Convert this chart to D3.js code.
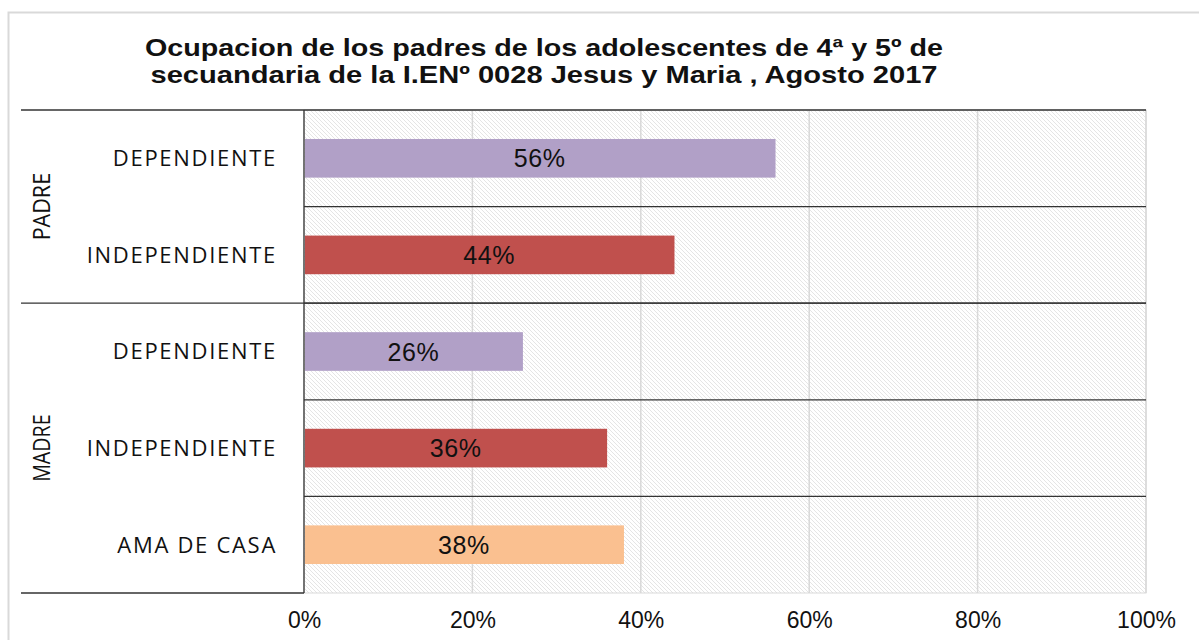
<!DOCTYPE html>
<html>
<head>
<meta charset="utf-8">
<script src="https://cdn.jsdelivr.net/npm/d3@7"></script>
<style>
  body { margin: 0; background: #fff; }
  svg { display: block; }
</style>
</head>
<body>
<svg id="chart"></svg>
<script>
// Ocupacion de los padres - horizontal bar chart grouped by PADRE / MADRE
const titleLines = [
    'Ocupacion de los padres de los adolescentes de 4ª y 5º de',
    'secuandaria de la I.ENº 0028 Jesus y Maria , Agosto 2017'
];
const groups = ['PADRE', 'MADRE'];
const groupSizes = [2, 3];
const categories = ['DEPENDIENTE', 'INDEPENDIENTE', 'DEPENDIENTE', 'INDEPENDIENTE', 'AMA DE CASA'];
const values = [0.56, 0.44, 0.26, 0.36, 0.38];
const tickValues = [0, 0.2, 0.4, 0.6, 0.8, 1];

const colorByCat = {
    'DEPENDIENTE': '#B1A0C7',
    'INDEPENDIENTE': '#C0504D',
    'AMA DE CASA': '#FAC090'
};

let width = 1199,
    height = 640;

const svg = d3.select('#chart')
    .attr('width', width)
    .attr('height', height);

// diagonal hatch for plot background
const defs = svg.append('defs');
defs.append('pattern')
    .attr('id', 'hatch')
    .attr('patternUnits', 'userSpaceOnUse')
    .attr('width', 4)
    .attr('height', 4)
  .append('path')
    .attr('d', 'M-1,-1 L5,5 M-1,3 L1,5 M3,-1 L5,1')
    .attr('stroke', '#e2e2e2')
    .attr('stroke-width', 0.9);

// outer chart border
svg.append('rect')
    .attr('x', 8.5).attr('y', 12.5)
    .attr('width', 1300).attr('height', 700)
    .attr('fill', '#fff')
    .attr('stroke', '#d9d9d9')
    .attr('stroke-width', 2);

const x = d3.scaleLinear()
    .domain([0, 1])
    .range([304, 1146]);

const y = d3.scaleBand()
    .domain(d3.range(categories.length))
    .range([110, 593])
    .paddingInner(0)
    .paddingOuter(0);

// plot background
svg.append('rect')
    .attr('x', x(0)).attr('y', y.range()[0])
    .attr('width', x(1) - x(0))
    .attr('height', y.range()[1] - y.range()[0])
    .attr('fill', 'url(#hatch)')
    .attr('stroke', '#d9d9d9');

// vertical gridlines
svg.append('g')
    .selectAll('line')
    .data(tickValues.slice(1))
    .enter().append('line')
      .attr('x1', (d) => x(d)).attr('x2', (d) => x(d))
      .attr('y1', y.range()[0]).attr('y2', y.range()[1])
      .attr('stroke', '#d9d9d9')
      .attr('stroke-width', 1.5);

// category separators inside plot
svg.append('g')
    .selectAll('line')
    .data(d3.range(1, categories.length))
    .enter().append('line')
      .attr('x1', x(0)).attr('x2', x(1))
      .attr('y1', (d) => y(d)).attr('y2', (d) => y(d))
      .attr('stroke', '#333')
      .attr('stroke-width', 1.3);

// group separators across label area
let groupStarts = [0];
groupSizes.forEach((n, i) => groupStarts.push(groupStarts[i] + n));
svg.append('g')
    .selectAll('line')
    .data(groupStarts)
    .enter().append('line')
      .attr('x1', 21)
      .attr('x2', (d) => d === categories.length ? x(0) : x(1))
      .attr('y1', (d) => d === categories.length ? y.range()[1] : y(d))
      .attr('y2', (d) => d === categories.length ? y.range()[1] : y(d))
      .attr('stroke', '#333')
      .attr('stroke-width', 1.3);

// vertical axis line
svg.append('line')
    .attr('x1', x(0)).attr('x2', x(0))
    .attr('y1', y.range()[0]).attr('y2', y.range()[1])
    .attr('stroke', '#333')
    .attr('stroke-width', 1.3);

// bars
const barH = y.bandwidth() * 0.4;
svg.append('g')
    .selectAll('rect')
    .data(values)
    .enter().append('rect')
      .attr('x', x(0) + 1)
      .attr('y', (d, i) => y(i) + (y.bandwidth() - barH) / 2)
      .attr('width', (d) => x(d) - x(0) - 1)
      .attr('height', barH)
      .attr('fill', (d, i) => colorByCat[categories[i]]);

// value labels
svg.append('g')
    .selectAll('text')
    .data(values)
    .enter().append('text')
      .attr('x', (d) => (x(0) + x(d)) / 2)
      .attr('y', (d, i) => y(i) + y.bandwidth() / 2)
      .attr('dy', '0.36em')
      .attr('text-anchor', 'middle')
      .attr('font-family', 'Liberation Sans, Arial, sans-serif')
      .attr('font-size', 25)
      .attr('letter-spacing', 0.6)
      .attr('fill', '#111')
      .text((d) => d3.format('.0%')(d));

// category labels
svg.append('g')
    .selectAll('text')
    .data(categories)
    .enter().append('text')
      .attr('x', 277)
      .attr('y', (d, i) => y(i) + y.bandwidth() / 2)
      .attr('dy', '0.36em')
      .attr('text-anchor', 'end')
      .attr('font-family', 'Open Sans, sans-serif')
      .attr('font-size', 22)
      .attr('letter-spacing', 1.7)
      .attr('fill', '#111')
      .text((d) => d);

// group labels (rotated)
svg.append('g')
    .selectAll('text')
    .data(groups)
    .enter().append('text')
      .attr('transform', (d, i) => {
          let cy = (y(groupStarts[i]) + (groupStarts[i + 1] === categories.length ? y.range()[1] : y(groupStarts[i + 1]))) / 2;
          return `translate(42,${cy}) rotate(-90)`;
      })
      .attr('dy', '0.36em')
      .attr('text-anchor', 'middle')
      .attr('font-family', 'Open Sans, sans-serif')
      .attr('font-size', 23)
      .attr('textLength', (d) => d.length * 13.5)
      .attr('lengthAdjust', 'spacingAndGlyphs')
      .attr('fill', '#111')
      .text((d) => d);

// x axis tick labels
const axis = svg.append('g')
    .attr('transform', `translate(0,${y.range()[1] + 16})`)
    .call(d3.axisBottom(x)
        .tickValues(tickValues)
        .tickSize(0)
        .tickFormat(d3.format('.0%')));
axis.select('.domain').remove();
axis.selectAll('text')
    .attr('font-family', 'Liberation Sans, Arial, sans-serif')
    .attr('font-size', 23)
    .attr('fill', '#111');

// title, stretched wide like the original
const titleWidths = [798, 787];
svg.append('g')
    .selectAll('text')
    .data(titleLines)
    .enter().append('text')
      .attr('x', 544)
      .attr('y', (d, i) => 56 + i * 27)
      .attr('text-anchor', 'middle')
      .attr('font-family', 'Liberation Sans, Arial, sans-serif')
      .attr('font-weight', 'bold')
      .attr('font-size', 24)
      .attr('textLength', (d, i) => titleWidths[i])
      .attr('lengthAdjust', 'spacingAndGlyphs')
      .attr('fill', '#111')
      .text((d) => d);
</script>
</body>
</html>
